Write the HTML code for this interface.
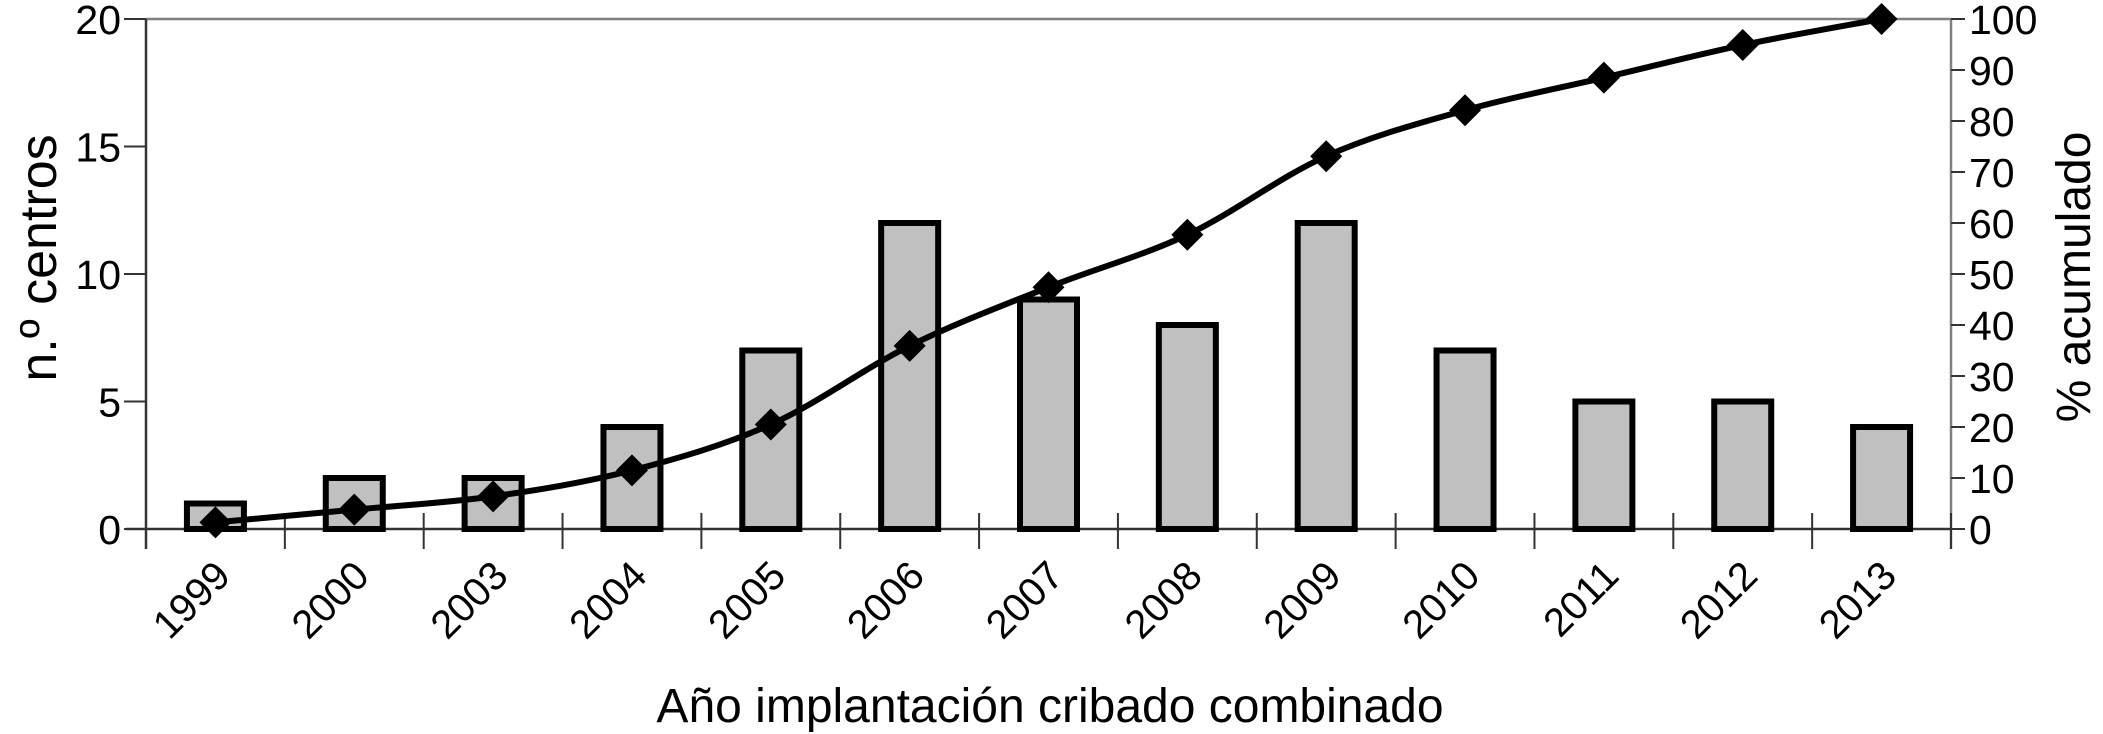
<!DOCTYPE html>
<html><head><meta charset="utf-8"><style>
html,body{margin:0;padding:0;background:#fff;}
svg{display:block;font-family:"Liberation Sans",sans-serif;}
</style></head><body>
<svg id="chart" width="2103" height="734" viewBox="0 0 2103 734" xmlns="http://www.w3.org/2000/svg"></svg>
<script>
const categories = ["1999","2000","2003","2004","2005","2006","2007","2008","2009","2010","2011","2012","2013"];
const centros = [1,2,2,4,7,12,9,8,12,7,5,5,4];
const acumulado = [1.3,3.8,6.4,11.5,20.5,35.9,47.4,57.7,73.1,82.1,88.5,94.9,100];
const leftTicks = [0,5,10,15,20];
const rightTicks = [0,10,20,30,40,50,60,70,80,90,100];

const NS="http://www.w3.org/2000/svg";
const svg=document.getElementById('chart');
const L=146,R=1951,T=19,B=529;
const band=(R-L)/categories.length;
const xc=i=>L+band*(i+0.5);
const yL=v=>B-(v/20)*(B-T);
const yR=v=>B-(v/100)*(B-T);
function el(tag,attrs,parent){const e=document.createElementNS(NS,tag);for(const k in attrs)e.setAttribute(k,attrs[k]);(parent||svg).appendChild(e);return e;}

let e=el('line',{x1:L,y1:T,x2:R,y2:T,stroke:'#808080','stroke-width':2.5});


e=el('line',{x1:R,y1:T,x2:R,y2:B+20,stroke:'#808080','stroke-width':2.5});


e=el('line',{x1:L,y1:T,x2:L,y2:B+20,stroke:'#333','stroke-width':2.5});


e=el('line',{x1:L-20,y1:B,x2:R,y2:B,stroke:'#333','stroke-width':2.5});



leftTicks.forEach(v=>{
  const y=yL(v);
  const t=el('line',{x1:L-22,y1:y,x2:L,y2:y,stroke:'#333','stroke-width':2});
  
  
  const lb=el('text',{x:L-25,y:y+15,'text-anchor':'end','font-size':41,fill:'#000'});
  lb.textContent=v;
  
  
});
rightTicks.forEach(v=>{
  const y=yR(v);
  const t=el('line',{x1:R,y1:y,x2:R+14,y2:y,stroke:'#333','stroke-width':2});
  
  
  const lb=el('text',{x:R+18,y:y+15,'text-anchor':'start','font-size':41,fill:'#000'});
  lb.textContent=v;
  
  
});
for(let i=0;i<=categories.length;i++){
  const x=L+band*i;
  const t=el('line',{x1:x,y1:B-16,x2:x,y2:B+20,stroke:'#333','stroke-width':2});
  
  
}
const bw=57;
centros.forEach((v,i)=>{
  const y=yL(v);
  const b=el('rect',{x:xc(i)-bw/2,y:y,width:bw,height:B-y,fill:'#c0c0c0',stroke:'#000','stroke-width':6});
  
  
});
const P=acumulado.map((v,i)=>[xc(i),yR(v)]);
let d=`M${P[0][0]},${P[0][1]}`;
for(let i=0;i<P.length-1;i++){
  const p0=P[Math.max(0,i-1)],p1=P[i],p2=P[i+1],p3=P[Math.min(P.length-1,i+2)];
  const c1=[p1[0]+(p2[0]-p0[0])/6,p1[1]+(p2[1]-p0[1])/6];
  const c2=[p2[0]-(p3[0]-p1[0])/6,p2[1]-(p3[1]-p1[1])/6];
  d+=` C${c1[0]},${c1[1]} ${c2[0]},${c2[1]} ${p2[0]},${p2[1]}`;
}
e=el('path',{d:d,fill:'none',stroke:'#000','stroke-width':6,'stroke-linejoin':'round'});


acumulado.forEach((v,i)=>{
  const x=xc(i),y=yR(v),s=16;
  const m=el('polygon',{points:`${x},${y-s} ${x+s},${y} ${x},${y+s} ${x-s},${y}`,fill:'#000'});
  
  
});
categories.forEach((c,i)=>{
  const x=xc(i)+17,y=578;
  const t=el('text',{x:x,y:y,'text-anchor':'end','font-size':40,fill:'#000',transform:`rotate(-45 ${x} ${y})`});
  t.textContent=c;
  
  
});
e=el('text',{x:1050,y:722,'text-anchor':'middle','font-size':48,fill:'#000'});
e.textContent='Año implantación cribado combinado';


e=el('text',{x:0,y:0,'text-anchor':'middle','font-size':52,fill:'#000',transform:'translate(56,258) rotate(-90)'});
e.textContent='n.º centros';


e=el('text',{x:0,y:0,'text-anchor':'middle','font-size':48,fill:'#000',transform:'translate(2090,277) rotate(-90)'});
e.textContent='% acumulado';


</script>
</body></html>
